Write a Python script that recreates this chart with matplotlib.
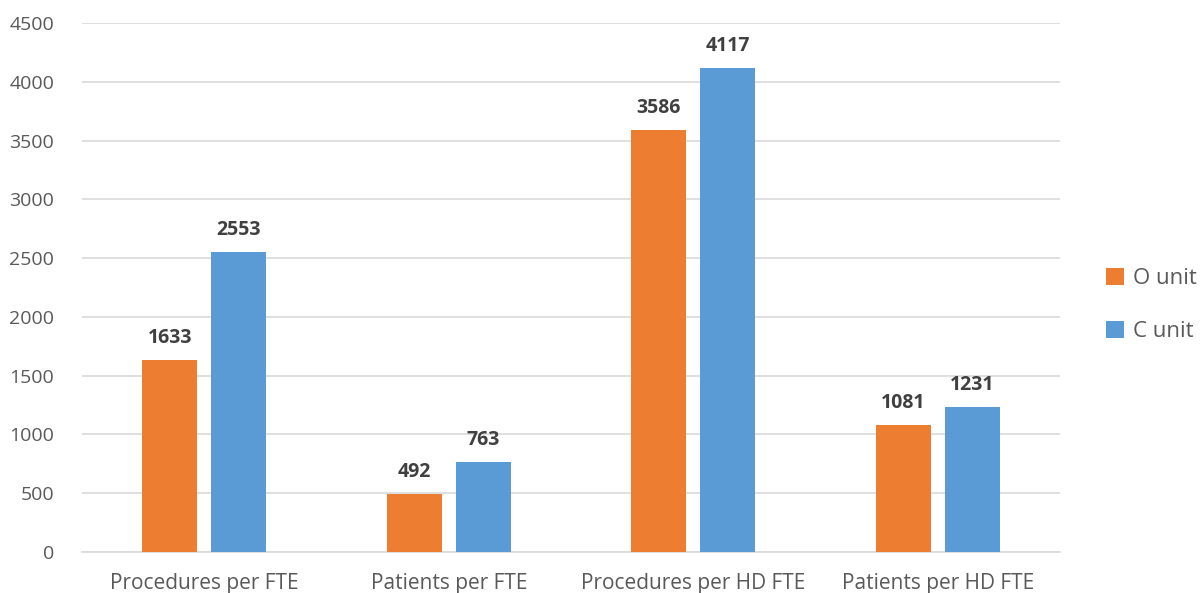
import matplotlib.pyplot as plt
import numpy as np

categories = ["Procedures per FTE", "Patients per FTE", "Procedures per HD FTE", "Patients per HD FTE"]
o_unit = [1633, 492, 3586, 1081]
c_unit = [2553, 763, 4117, 1231]
series_names = ["O unit", "C unit"]
colors = ["#ED7D31", "#5B9BD5"]

plt.rcParams['font.family'] = ['Open Sans', 'DejaVu Sans']

fig = plt.figure(figsize=(12.04, 5.93), dpi=100)
ax = fig.add_axes([82 / 1204, (593 - 552) / 593, (1060 - 82) / 1204, (552 - 23) / 593])

x = np.arange(len(categories))
width = 0.225
offset = 0.141

bars_o = ax.bar(x - offset, o_unit, width, color=colors[0], label=series_names[0], zorder=3)
bars_c = ax.bar(x + offset, c_unit, width, color=colors[1], label=series_names[1], zorder=3)

for bars, vals in ((bars_o, o_unit), (bars_c, c_unit)):
    for b, v in zip(bars, vals):
        ax.text(b.get_x() + b.get_width() / 2, v + 105, f"{v}", ha="center", va="bottom",
                fontsize=14, fontweight="bold", color="#404040")

ax.set_xlim(-0.5, 3.5)
ax.set_ylim(0, 4500)
ax.set_yticks(np.arange(0, 4501, 500))
ax.yaxis.grid(True, color="#D9D9D9", linewidth=1.2, zorder=0)
ax.set_xticks(x)
ax.set_xticklabels(categories, fontsize=15, color="#595959")
ax.tick_params(axis="y", labelsize=14, labelcolor="#595959", length=0, pad=20)
ax.tick_params(axis="x", length=0, pad=15)
for s in ("top", "right", "left"):
    ax.spines[s].set_visible(False)
ax.spines["bottom"].set_color("#D9D9D9")
ax.spines["bottom"].set_linewidth(1.2)

leg = fig.legend(handles=[bars_o, bars_c], labels=series_names, loc="center left",
                 bbox_to_anchor=(1086 / 1204, 1 - 305 / 593), frameon=False,
                 fontsize=16, labelcolor="#595959", handlelength=0.8, handleheight=0.8,
                 handletextpad=0.4, labelspacing=1.45)

fig.savefig("out.png", dpi=100, facecolor="white")
